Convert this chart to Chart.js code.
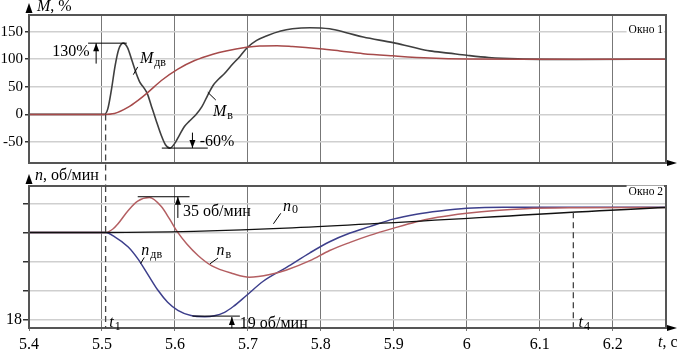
<!DOCTYPE html>
<html lang="ru">
<head>
<meta charset="UTF-8">
<title>Окно 1 / Окно 2</title>
<script src="https://cdn.jsdelivr.net/npm/chart.js@4"></script>
<style>
  body { margin: 0; background: #fff; }
  #wrap { position: relative; width: 677px; height: 351px; }
  #wrap canvas { position: absolute; left: 0; top: 0; }
</style>
</head>
<body>
<div id="wrap">
  <canvas id="top" width="677" height="351"></canvas>
  <canvas id="bottom" width="677" height="351"></canvas>
</div>
<script>
// time axis, s
const xMin = 5.4, xMax = 6.273;
const xTicks = [5.4, 5.5, 5.6, 5.7, 5.8, 5.9, 6.0, 6.1, 6.2];
const xTickLabels = ['5.4', '5.5', '5.6', '5.7', '5.8', '5.9', '6', '6.1', '6.2'];
const t1 = 5.505, t4 = 6.146;

// Окно 1: M, %
const mTicks = [-50, 0, 50, 100, 150];
const mTickLabels = ['-50', '0', '50', '100', '150'];
const mDvT = [5.4, 5.503, 5.508, 5.513, 5.518, 5.523, 5.529, 5.535, 5.541, 5.547, 5.552, 5.557, 5.562, 5.568, 5.574, 5.581, 5.587, 5.593, 5.6, 5.606, 5.613, 5.62, 5.629, 5.637, 5.645, 5.652, 5.66, 5.668, 5.677, 5.689, 5.7, 5.712, 5.727, 5.745, 5.761, 5.785, 5.812, 5.835, 5.858, 5.899, 5.925, 5.949, 5.975, 6.0, 6.03, 6.07, 6.15, 6.273];
const mDvV = [0, 0, 10, 45, 88, 118, 129, 121, 98, 74, 58, 49, 38, 14, -10, -37, -55, -61, -52, -38, -22, -12, 0, 14, 35, 52, 64, 74, 88, 105, 122, 134, 143, 151, 155, 157, 155, 148, 140, 130, 122, 115, 111, 107, 103, 100.5, 99.5, 100];
const mVT = [5.4, 5.503, 5.517, 5.536, 5.549, 5.563, 5.581, 5.604, 5.627, 5.652, 5.67, 5.698, 5.716, 5.74, 5.761, 5.798, 5.826, 5.858, 5.899, 5.949, 6.0, 6.1, 6.273];
const mVV = [0, 0, 1.5, 13, 25, 40, 61, 82, 97.5, 109, 115, 121.5, 124, 124.5, 123, 119, 115, 110, 106, 102, 100.3, 100, 100];

// Окно 2: n, об/мин (grid every half division, only 18 labelled)
const nTicks = [18, 18.5, 19, 19.5, 20, 20.5, 21, 21.5, 22, 22.5];
const nTickLabels = ['18', '', '', '', '', '', '', '', '', ''];
const nVT = [5.4, 5.505, 5.515, 5.522, 5.536, 5.549, 5.565, 5.581, 5.593, 5.602, 5.616, 5.632, 5.65, 5.68, 5.702, 5.73, 5.753, 5.785, 5.812, 5.84, 5.867, 5.9, 5.93, 5.96, 6.0, 6.04, 6.08, 6.15, 6.273];
const nVV = [21.0, 21.0, 21.12, 21.3, 21.76, 22.08, 22.2, 21.9, 21.45, 21.07, 20.61, 20.2, 19.86, 19.58, 19.46, 19.55, 19.71, 20.03, 20.38, 20.66, 20.9, 21.15, 21.36, 21.52, 21.66, 21.76, 21.82, 21.85, 21.86];
const nDvT = [5.4, 5.505, 5.517, 5.536, 5.549, 5.563, 5.577, 5.59, 5.604, 5.622, 5.641, 5.654, 5.668, 5.68, 5.698, 5.721, 5.753, 5.785, 5.812, 5.84, 5.867, 5.899, 5.931, 5.963, 6.0, 6.05, 6.273];
const nDvV = [21.0, 21.0, 20.86, 20.5, 20.1, 19.55, 19.0, 18.6, 18.32, 18.14, 18.1, 18.13, 18.25, 18.45, 18.83, 19.32, 19.8, 20.3, 20.68, 20.98, 21.2, 21.46, 21.63, 21.74, 21.83, 21.87, 21.87];
const n0T = [5.4, 5.505, 6.273];
const n0V = [21.0, 21.0, 21.86];

const serif = '"Liberation Serif", "Times New Roman", serif';
Chart.defaults.font.family = serif;
Chart.defaults.color = '#000';

function pts(t, v) { return t.map((x, i) => ({ x: x, y: v[i] })); }

function line(data, color, w) {
  return { data: data, borderColor: color, borderWidth: w || 1.5, pointRadius: 0,
           fill: false, cubicInterpolationMode: 'monotone' };
}

// italic letter with a small upright subscript
function subLabel(ctx, main, small, x, y) {
  ctx.textAlign = 'left'; ctx.textBaseline = 'middle';
  ctx.font = 'italic 16px ' + serif;
  ctx.fillText(main, x, y);
  const w = ctx.measureText(main).width;
  ctx.font = '12px ' + serif;
  ctx.fillText(small, x + w + 1, y + 4);
}

// vertical line with arrowhead at y2
function arrow(ctx, x, y1, y2) {
  ctx.beginPath(); ctx.moveTo(x, y1); ctx.lineTo(x, y2); ctx.stroke();
  const d = y2 > y1 ? 1 : -1;
  ctx.beginPath();
  ctx.moveTo(x, y2); ctx.lineTo(x - 3, y2 - d * 8); ctx.lineTo(x + 3, y2 - d * 8);
  ctx.closePath(); ctx.fill();
}

function leader(ctx, x1, y1, x2, y2) {
  ctx.beginPath(); ctx.moveTo(x1, y1); ctx.lineTo(x2, y2); ctx.stroke();
}

function frameAndArrows(ctx, a) {
  ctx.strokeStyle = '#555'; ctx.lineWidth = 2;
  ctx.strokeRect(a.left, a.top, a.right - a.left, a.bottom - a.top);
  ctx.fillStyle = '#000';
  ctx.beginPath();
  ctx.moveTo(a.left, a.top - 12); ctx.lineTo(a.left - 3.5, a.top - 2); ctx.lineTo(a.left + 3.5, a.top - 2);
  ctx.closePath(); ctx.fill();
  ctx.beginPath();
  ctx.moveTo(a.right + 11, a.bottom); ctx.lineTo(a.right + 1, a.bottom - 3); ctx.lineTo(a.right + 1, a.bottom + 3);
  ctx.closePath(); ctx.fill();
}

function windowLabel(ctx, text, x, y) {
  ctx.font = '11.5px ' + serif;
  const w = ctx.measureText(text).width;
  ctx.fillStyle = '#fff'; ctx.fillRect(x - w - 2, y - 6, w + 3, 12);
  ctx.fillStyle = '#000'; ctx.textAlign = 'right'; ctx.textBaseline = 'middle';
  ctx.fillText(text, x, y);
}

const topMarks = {
  id: 'topMarks',
  afterDatasetsDraw(chart) {
    const { ctx, chartArea: a, scales } = chart;
    const px = t => scales.x.getPixelForValue(t), py = v => scales.y.getPixelForValue(v);
    ctx.save();
    frameAndArrows(ctx, a);
    ctx.strokeStyle = '#000'; ctx.fillStyle = '#000'; ctx.lineWidth = 1;

    // axis title
    ctx.textBaseline = 'middle'; ctx.textAlign = 'left';
    ctx.font = 'italic 16px ' + serif; ctx.fillText('M', a.left + 8, a.top - 8);
    const wm = ctx.measureText('M').width;
    ctx.font = '16px ' + serif; ctx.fillText(', %', a.left + 8 + wm, a.top - 8);

    windowLabel(ctx, 'Окно 1', a.right - 3, py(153));

    // t1 marker
    ctx.save();
    ctx.setLineDash([6, 4]); ctx.strokeStyle = '#444'; ctx.lineWidth = 1.3;
    leader(ctx, px(t1), py(0), px(t1), a.bottom + 24);
    ctx.restore();

    // +130 %
    leader(ctx, px(5.481), py(129), px(5.534), py(129));
    arrow(ctx, px(5.492), py(92), py(129));
    ctx.font = '16px ' + serif; ctx.textAlign = 'right'; ctx.textBaseline = 'middle';
    ctx.fillText('130%', px(5.483), py(114));

    // -60 %
    leader(ctx, px(5.582), py(-61), px(5.645), py(-61));
    arrow(ctx, px(5.624), py(-33), py(-61));
    ctx.textAlign = 'left';
    ctx.fillText('-60%', px(5.634), py(-49));

    // curve names
    subLabel(ctx, 'M', 'дв', px(5.552), py(100));
    leader(ctx, px(5.549), py(86), px(5.543), py(72));
    subLabel(ctx, 'M', 'в', px(5.652), py(5));
    leader(ctx, px(5.656), py(26), px(5.645), py(40));
    ctx.restore();
  }
};

const bottomMarks = {
  id: 'bottomMarks',
  afterDatasetsDraw(chart) {
    const { ctx, chartArea: a, scales } = chart;
    const px = t => scales.x.getPixelForValue(t), py = v => scales.y.getPixelForValue(v);
    ctx.save();
    frameAndArrows(ctx, a);
    ctx.strokeStyle = '#000'; ctx.fillStyle = '#000'; ctx.lineWidth = 1;

    ctx.textBaseline = 'middle'; ctx.textAlign = 'left';
    ctx.font = 'italic 16px ' + serif; ctx.fillText('n', a.left + 6, a.top - 10);
    const wn = ctx.measureText('n').width;
    ctx.font = '16px ' + serif; ctx.fillText(', об/мин', a.left + 6 + wn, a.top - 10);

    windowLabel(ctx, 'Окно 2', a.right - 3, py(22.41));

    // t1 and t4 markers
    ctx.save();
    ctx.setLineDash([6, 4]); ctx.strokeStyle = '#444'; ctx.lineWidth = 1.3;
    leader(ctx, px(t1), a.top, px(t1), a.bottom);
    leader(ctx, px(t4), py(21.7), px(t4), a.bottom);
    ctx.restore();
    subLabel(ctx, 't', '1', px(5.51), py(17.9));
    subLabel(ctx, 't', '4', px(6.153), py(17.9));

    // +35 об/мин
    leader(ctx, px(5.549), py(22.23), px(5.62), py(22.23));
    arrow(ctx, px(5.604), py(21.5), py(22.23));
    ctx.font = '16px ' + serif; ctx.textAlign = 'left'; ctx.textBaseline = 'middle';
    ctx.fillText('35 об/мин', px(5.611), py(21.72));

    // 19 об/мин
    leader(ctx, px(5.624), py(18.12), px(5.689), py(18.12));
    arrow(ctx, px(5.678), py(17.7), py(18.09));
    ctx.font = '16px ' + serif; ctx.textAlign = 'left';
    ctx.fillText('19 об/мин', px(5.689), py(17.87));

    // curve names
    subLabel(ctx, 'n', '0', px(5.748), py(21.9));
    leader(ctx, px(5.745), py(21.66), px(5.735), py(21.3));
    subLabel(ctx, 'n', 'дв', px(5.554), py(20.38));
    leader(ctx, px(5.558), py(20.14), px(5.553), py(19.93));
    subLabel(ctx, 'n', 'в', px(5.657), py(20.38));
    leader(ctx, px(5.659), py(20.12), px(5.648), py(19.92));

    // "t, c" at the end of the time axis
    ctx.textBaseline = 'top'; ctx.textAlign = 'left';
    ctx.font = 'italic 16px ' + serif; ctx.fillText('t', a.right - 8, a.bottom + 7);
    const wt = ctx.measureText('t').width;
    ctx.font = '16px ' + serif; ctx.fillText(', c', a.right - 8 + wt, a.bottom + 7);
    ctx.restore();
  }
};

function xScale(showLabels) {
  return {
    type: 'linear', min: xMin, max: xMax,
    afterBuildTicks: s => { s.ticks = xTicks.map(v => ({ value: v })); },
    afterFit: s => { s.height = showLabels ? 23 : 0; },
    grid: { color: '#777', lineWidth: 1, drawTicks: showLabels, tickLength: 3, tickColor: '#777' },
    border: { display: false },
    ticks: { display: showLabels, maxRotation: 0, autoSkip: false, padding: 4,
             font: { family: serif, size: 16 }, color: '#000',
             callback: (v, i) => xTickLabels[i] }
  };
}

new Chart(document.getElementById('top'), {
  type: 'line',
  data: { datasets: [
    line(pts(mVT, mVV), '#a64a4a', 1.5),
    line(pts(mDvT, mDvV), '#3f3f3f', 1.6)
  ] },
  options: {
    responsive: false, animation: false,
    layout: { padding: { top: 15, right: 11, bottom: 188, left: 0 } },
    plugins: { legend: { display: false }, tooltip: { enabled: false } },
    scales: {
      x: xScale(false),
      y: {
        min: -88, max: 180,
        afterBuildTicks: s => { s.ticks = mTicks.map(v => ({ value: v })); },
        afterFit: s => { s.width = 29; },
        grid: { color: '#cfcfcf', lineWidth: 1.5, tickLength: 4, tickColor: '#333' },
        border: { display: false },
        ticks: { padding: 2, font: { family: serif, size: 15 }, color: '#000',
                 callback: (v, i) => mTickLabels[i] }
      }
    }
  },
  plugins: [topMarks]
});

new Chart(document.getElementById('bottom'), {
  type: 'line',
  data: { datasets: [
    line(pts(n0T, n0V), '#111111', 1.4),
    line(pts(nVT, nVV), '#b45f62', 1.5),
    line(pts(nDvT, nDvV), '#3d3f8c', 1.5)
  ] },
  options: {
    responsive: false, animation: false,
    layout: { padding: { top: 186, right: 11, bottom: 0, left: 0 } },
    plugins: { legend: { display: false }, tooltip: { enabled: false } },
    scales: {
      x: xScale(true),
      y: {
        min: 17.71, max: 22.6,
        afterBuildTicks: s => { s.ticks = nTicks.map(v => ({ value: v })); },
        afterFit: s => { s.width = 29; },
        grid: { color: '#cfcfcf', lineWidth: 1.5, tickLength: 6,
                tickColor: c => (c.tick && Number.isInteger(c.tick.value)) ? '#333' : 'rgba(0,0,0,0)' },
        border: { display: false },
        ticks: { padding: 1, font: { family: serif, size: 16 }, color: '#000',
                 callback: (v, i) => nTickLabels[i] }
      }
    }
  },
  plugins: [bottomMarks]
});
</script>
</body>
</html>
